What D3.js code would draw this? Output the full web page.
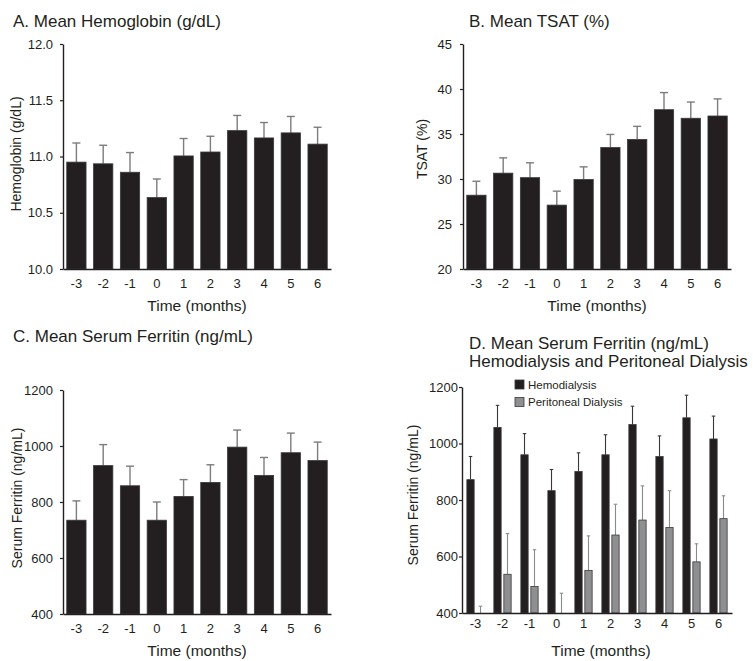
<!DOCTYPE html>
<html>
<head>
<meta charset="utf-8">
<script src="https://cdn.jsdelivr.net/npm/d3@7"></script>
<style>
  body { margin: 0; background: #fff; }
  text { font-family: "Liberation Sans", Arial, sans-serif; fill: #231f20; }
</style>
</head>
<body>
<svg id="fig" width="753" height="661"></svg>
<script>
// categories (months relative to start)
var months = ["-3", "-2", "-1", "0", "1", "2", "3", "4", "5", "6"];

// A. hemoglobin (g/dL), mean and SE
var hbMean = [10.95, 10.935, 10.86, 10.635, 11.005, 11.04, 11.23, 11.165, 11.21, 11.11];
var hbSe   = [0.17, 0.165, 0.175, 0.165, 0.155, 0.14, 0.135, 0.137, 0.146, 0.15];

// B. TSAT (%)
var tsatMean = [28.2, 30.65, 30.15, 27.1, 29.95, 33.5, 34.4, 37.7, 36.75, 37.0];
var tsatSe   = [1.55, 1.7, 1.65, 1.55, 1.4, 1.45, 1.45, 1.9, 1.8, 1.9];

// C. serum ferritin (ng/mL)
var ferMean = [735, 930, 858, 735, 820, 870, 996, 895, 976, 948];
var ferSe   = [69, 75, 70, 65, 60, 63, 61, 64, 70, 66];

// D. ferritin by dialysis type
var hdMean = [872, 1057, 960, 833, 901, 960, 1067, 954, 1091, 1016];
var hdSe   = [82, 78, 75, 75, 66, 71, 65, 73, 80, 81];
var pdMean = [385, 537, 494, 390, 551, 676, 729, 703, 581, 734];
var pdSe   = [39, 144, 130, 80, 122, 109, 121, 130, 64, 81];

var ticksA = [10.0, 10.5, 11.0, 11.5, 12.0];
var ticksB = [20, 25, 30, 35, 40, 45];
var ticksC = [400, 600, 800, 1000, 1200];

var svg = d3.select("#fig");
var ink = "#231f20";

function drawPanel(cfg) {
  var g = svg.append("g");

  var x = d3.scaleBand()
    .domain(months)
    .range([cfg.x0, cfg.x1])
    .paddingInner(cfg.pad)
    .paddingOuter(cfg.pad / 2);

  var y = d3.scaleLinear()
    .domain(cfg.domain)
    .range([cfg.yBottom, cfg.yTop]);

  // sub scale for grouped bars
  var keys = cfg.series.map(function(s, i){ return i; });
  var sub = d3.scaleBand()
    .domain(keys)
    .range([0, x.bandwidth()])
    .paddingInner(cfg.subPad || 0);

  var clipId = "clip" + cfg.id;
  g.append("clipPath").attr("id", clipId)
    .append("rect")
    .attr("x", cfg.x0).attr("y", cfg.yTop - 40)
    .attr("width", cfg.x1 - cfg.x0).attr("height", cfg.yBottom - cfg.yTop + 40);

  var plot = g.append("g").attr("clip-path", "url(#" + clipId + ")");
  var lo = cfg.domain[0];

  cfg.series.forEach(function(s, si) {
    var rows = months.map(function(m, i){ return {m: m, v: s.mean[i], e: s.se[i]}; });
    var bx = function(d){ return x(d.m) + sub(si); };
    var bw = sub.bandwidth();

    // error bars (upper only)
    var eb = plot.append("g").selectAll("g").data(rows).join("g");
    eb.append("line")
      .attr("x1", function(d){ return bx(d) + bw / 2; })
      .attr("x2", function(d){ return bx(d) + bw / 2; })
      .attr("y1", function(d){ return y(Math.max(d.v, lo)); })
      .attr("y2", function(d){ return y(d.v + d.e); })
      .attr("stroke", s.errColor).attr("stroke-width", cfg.errWidth);
    eb.append("line")
      .attr("x1", function(d){ return bx(d) + bw / 2 - cfg.cap / 2; })
      .attr("x2", function(d){ return bx(d) + bw / 2 + cfg.cap / 2; })
      .attr("y1", function(d){ return y(d.v + d.e); })
      .attr("y2", function(d){ return y(d.v + d.e); })
      .attr("stroke", s.errColor).attr("stroke-width", cfg.errWidth);

    plot.append("g").selectAll("rect").data(rows.filter(function(d){ return d.v > lo; }))
      .join("rect")
      .attr("x", bx)
      .attr("y", function(d){ return y(d.v); })
      .attr("width", bw)
      .attr("height", function(d){ return y(lo) - y(d.v); })
      .attr("fill", s.fill)
      .attr("stroke", s.stroke)
      .attr("stroke-width", 0.8);
  });

  var yAxis = d3.axisLeft(y)
    .tickValues(cfg.ticks)
    .tickFormat(cfg.fmt)
    .tickSize(3)
    .tickSizeOuter(0)
    .tickPadding(cfg.yPad);
  var yG = g.append("g").attr("transform", "translate(" + cfg.x0 + ",0)").call(yAxis);

  var xAxis = d3.axisBottom(x).tickSize(0).tickSizeOuter(0).tickPadding(cfg.xPad);
  var xG = g.append("g").attr("transform", "translate(0," + cfg.yBottom + ")").call(xAxis);

  [yG, xG].forEach(function(a){
    a.select(".domain").attr("stroke", ink).attr("stroke-width", 1.4);
    a.selectAll(".tick line").attr("stroke", ink).attr("stroke-width", 1.2);
    a.selectAll("text").style("font-size", "13px").attr("fill", ink)
      .style("font-family", "'Liberation Sans', Arial, sans-serif");
  });

  // titles
  cfg.title.forEach(function(t, i){
    g.append("text")
      .attr("x", cfg.titleX)
      .attr("y", cfg.titleY + i * 18)
      .style("font-size", "17px")
      .text(t);
  });

  g.append("text")
    .attr("transform", "translate(" + cfg.yLabelX + "," + cfg.yLabelY + ") rotate(-90)")
    .attr("dy", "0.35em")
    .style("text-anchor", "middle")
    .style("font-size", "14px")
    .text(cfg.yLabel);

  g.append("text")
    .attr("x", (cfg.x0 + cfg.x1) / 2 + (cfg.xLabelShift || 0))
    .attr("y", cfg.xLabelY)
    .style("text-anchor", "middle")
    .style("font-size", "15.5px")
    .text("Time (months)");

  return g;
}

var single = function(mean, se) {
  return [{mean: mean, se: se, fill: ink, stroke: "#3b3839", errColor: "#7d7d7d"}];
};

drawPanel({
  id: "A", x0: 63, x1: 331, yTop: 44, yBottom: 269, pad: 0.28,
  domain: [10, 12], ticks: ticksA, fmt: d3.format(".1f"),
  series: single(hbMean, hbSe), cap: 8, errWidth: 1.4,
  yPad: 7, xPad: 9.5,
  title: ["A. Mean Hemoglobin (g/dL)"], titleX: 13, titleY: 27,
  yLabel: "Hemoglobin (g/dL)", yLabelX: 16, yLabelY: 154, xLabelY: 310.5
});

drawPanel({
  id: "B", x0: 463, x1: 731, yTop: 44, yBottom: 269, pad: 0.28,
  domain: [20, 45], ticks: ticksB, fmt: d3.format("d"),
  series: single(tsatMean, tsatSe), cap: 8, errWidth: 1.4,
  yPad: 8, xPad: 9.5,
  title: ["B. Mean TSAT (%)"], titleX: 469, titleY: 27,
  yLabel: "TSAT (%)", yLabelX: 422, yLabelY: 149, xLabelY: 310.5
});

drawPanel({
  id: "C", x0: 63, x1: 331, yTop: 390, yBottom: 614, pad: 0.28,
  domain: [400, 1200], ticks: ticksC, fmt: d3.format("d"),
  series: single(ferMean, ferSe), cap: 8, errWidth: 1.4,
  yPad: 7, xPad: 9.5,
  title: ["C. Mean Serum Ferritin (ng/mL)"], titleX: 13, titleY: 342,
  yLabel: "Serum Ferritin (ng/mL)", yLabelX: 17, yLabelY: 498, xLabelY: 655.5
});

var gD = drawPanel({
  id: "D", x0: 462, x1: 732, yTop: 387, yBottom: 613, pad: 0.36, subPad: 0.27,
  domain: [400, 1200], ticks: ticksC, fmt: d3.format("d"),
  series: [
    {mean: hdMean, se: hdSe, fill: ink, stroke: "#3b3839", errColor: "#3a3738"},
    {mean: pdMean, se: pdSe, fill: "#8e8f91", stroke: "#3b3839", errColor: "#8a8a8a"}
  ],
  cap: 3.5, errWidth: 1.1,
  yPad: 1, xPad: 5.5,
  title: ["D. Mean Serum Ferritin (ng/mL)", "Hemodialysis and Peritoneal Dialysis"],
  titleX: 469, titleY: 349,
  yLabel: "Serum Ferritin (ng/mL)", yLabelX: 413, yLabelY: 495, xLabelY: 655.5, xLabelShift: 4
});

// legend for D
var legendItems = [
  {name: "Hemodialysis", fill: ink},
  {name: "Peritoneal Dialysis", fill: "#8e8f91"}
];
var leg = gD.append("g").selectAll("g").data(legendItems).join("g")
  .attr("transform", function(d, i){ return "translate(515," + (380 + i * 17.5) + ")"; });
leg.append("rect")
  .attr("width", 9).attr("height", 9)
  .attr("fill", function(d){ return d.fill; })
  .attr("stroke", "#3b3839").attr("stroke-width", 0.8);
leg.append("text")
  .attr("x", 13).attr("y", 4.5).attr("dy", "0.35em")
  .style("font-size", "11.5px")
  .text(function(d){ return d.name; });
</script>
</body>
</html>
